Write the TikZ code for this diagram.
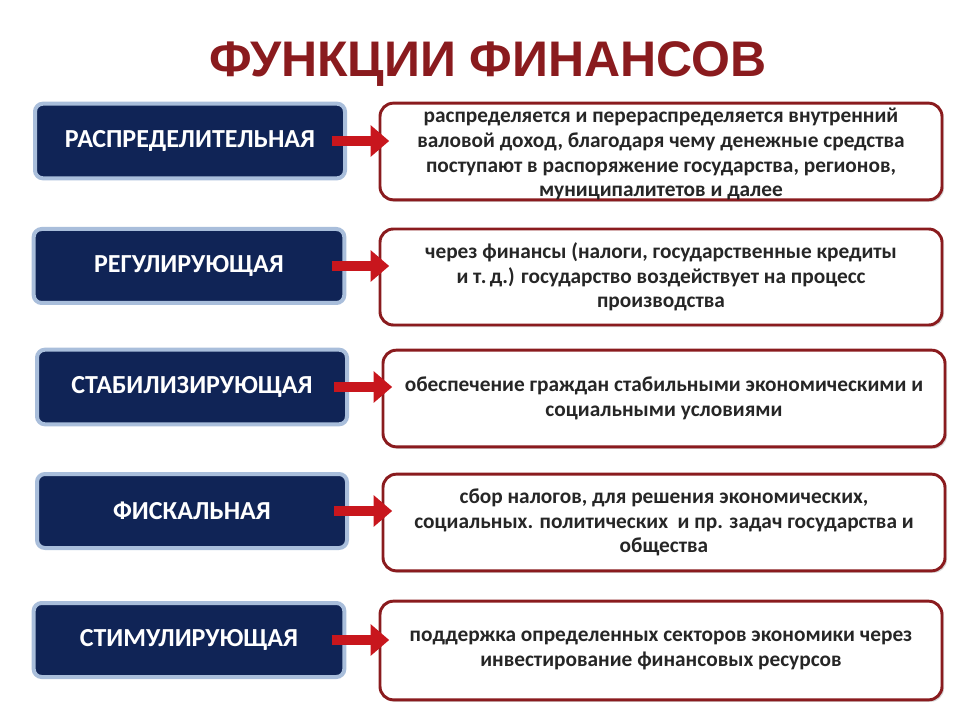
\documentclass[tikz,border=0pt]{standalone}
\usepackage{fontspec}
\setmainfont{Carlito}
\newfontfamily\titlefont{Liberation Sans}
\usetikzlibrary{arrows.meta,shadows}
\definecolor{navy}{HTML}{102456}
\definecolor{lblue}{HTML}{A9BEDB}
\definecolor{dred}{HTML}{8A1B1E}
\definecolor{ared}{HTML}{C8161D}
\definecolor{ttext}{HTML}{262626}
\tikzset{
 lbox/.style={draw=lblue,line width=3pt,fill=navy,rounded corners=6pt,text=white,font=\bfseries\fontsize{19.5}{22}\selectfont,inner sep=0pt},
 rbox/.style={draw=dred,line width=2.2pt,fill=white,rounded corners=10pt,text=ttext,align=center,font=\bfseries\fontsize{16}{18.5}\selectfont,inner sep=0pt,drop shadow={opacity=0.3,shadow xshift=1.5pt,shadow yshift=-1.5pt}},
 conn/.style={draw=ared,line width=7.5pt,-{Triangle[length=14pt,width=23pt]},shorten <=-11pt,shorten >=-8pt}
}
\begin{document}
\begin{tikzpicture}[x=0.75pt,y=-0.75pt]
\useasboundingbox (0,0) rectangle (960,720);
\node[text=dred,font=\titlefont\bfseries\fontsize{37.5}{44}\selectfont] (t) at (488,64) {ФУНКЦИИ ФИНАНСОВ};
\node[lbox,minimum width=232.5pt,minimum height=56pt] (l1) at (190,141) {РАСПРЕДЕЛИТЕЛЬНАЯ};
\node[lbox,minimum width=233pt,minimum height=55.5pt] (l2) at (189,266) {РЕГУЛИРУЮЩАЯ};
\node[lbox,minimum width=232.5pt,minimum height=56pt] (l3) at (192,387) {СТАБИЛИЗИРУЮЩАЯ};
\node[lbox,minimum width=232.5pt,minimum height=55.5pt] (l4) at (192,511) {ФИСКАЛЬНАЯ};
\node[lbox,minimum width=233pt,minimum height=55.5pt] (l5) at (189,640) {СТИМУЛИРУЮЩАЯ};
\node[rbox,minimum width=421.5pt,minimum height=72.5pt] (r1) at (661,151.5) {};
\node[text=ttext,align=center,font=\bfseries\fontsize{16}{18.5}\selectfont,inner sep=0pt] (r1t) at (r1.center) [yshift=-2pt] {распределяется и перераспределяется внутренний\\валовой доход, благодаря чему денежные средства\\поступают в распоряжение государства, регионов,\\муниципалитетов и далее};
\node[rbox,minimum width=421.5pt,minimum height=72pt] (r2) at (661,277) {через финансы (налоги, государственные кредиты\\и т.\,д.) государство воздействует на процесс\\производства};
\node[rbox,minimum width=421.5pt,minimum height=72.5pt] (r3) at (664,398.5) {обеспечение граждан стабильными экономическими и\\социальными условиями};
\node[rbox,minimum width=421.5pt,minimum height=72.5pt] (r4) at (664,522.5) {сбор налогов, для решения экономических,\\социальных. политических \ и пр. задач государства и\\общества};
\node[rbox,minimum width=421.5pt,minimum height=74pt] (r5) at (661,650.5) {поддержка определенных секторов экономики через\\инвестирование финансовых ресурсов};
\draw[conn] (l1.east) -- (l1.east -| r1.west);
\draw[conn] (l2.east) -- (l2.east -| r2.west);
\draw[conn] (l3.east) -- (l3.east -| r3.west);
\draw[conn] (l4.east) -- (l4.east -| r4.west);
\draw[conn] (l5.east) -- (l5.east -| r5.west);
\end{tikzpicture}
\end{document}
